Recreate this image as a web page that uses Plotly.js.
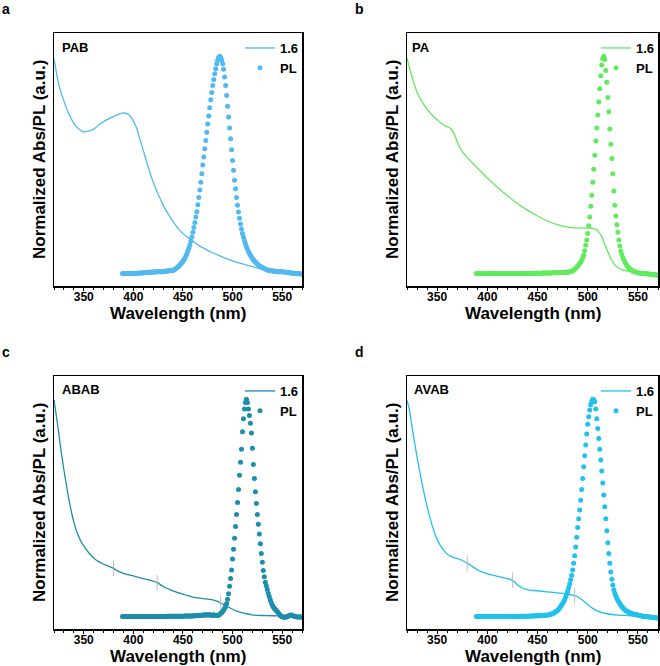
<!DOCTYPE html>
<html><head><meta charset="utf-8">
<script src="https://cdn.plot.ly/plotly-3.0.1.min.js"></script>
<style>html,body{margin:0;padding:0;background:#fff}#chart{width:660px;height:666px}</style>
</head><body><div id="chart"></div>
<script>
const FONT = 'Liberation Sans, Arial, Helvetica, sans-serif';
const panelLetters = ['a', 'b', 'c', 'd'];
const panelNames = ['PAB', 'PA', 'ABAB', 'AVAB'];
const colors = ['#52b9f0', '#62ea5e', '#1c8eab', '#20c1ec'];
const absLabel = '1.6';
const plLabel = 'PL';
const xTicks = [350, 400, 450, 500, 550];
const plStart = 389; // PL spectra: first wavelength (nm), 1 nm steps

// ---------- Absorption (line) ----------
const absA_x = [320,323,326,330,335,340,345,350,355,360,366,373,380,386,391,395,399,403,406,410,415,420,426,431,435,440,445,450,455,460,465,470,475,480,490,500,510,520,530,540,550,560,570];
const absA_y = [0.99,0.91,0.85,0.795,0.735,0.692,0.665,0.652,0.655,0.665,0.687,0.707,0.723,0.735,0.739,0.732,0.71,0.673,0.628,0.567,0.49,0.42,0.355,0.307,0.275,0.24,0.208,0.184,0.166,0.149,0.133,0.119,0.107,0.096,0.076,0.059,0.045,0.032,0.02,0.01,0.004,0.0,-0.003];

const absB_x = [320,322,325,330,335,340,345,350,355,359,362,364,366,368,370,373,376,380,385,390,400,410,420,430,440,450,460,470,480,490,500,505,508,511,514,517,520,523,526,530,535,540,550,560,570];
const absB_y = [0.992,0.955,0.905,0.835,0.79,0.757,0.73,0.708,0.688,0.677,0.672,0.665,0.652,0.632,0.607,0.578,0.556,0.535,0.51,0.487,0.44,0.397,0.358,0.323,0.292,0.265,0.242,0.225,0.214,0.21,0.209,0.208,0.204,0.192,0.17,0.135,0.1,0.07,0.046,0.028,0.017,0.012,0.004,0.0,-0.008];

const absC_x = [320,322,324,326,328,330,332,334,336,338,340,343,346,350,355,360,365,370,375,380,385,390,395,400,405,410,415,420,424,428,432,436,440,445,450,455,460,465,470,475,480,485,490,495,500,505,510,515,520,525,530,540,550,560,570];
const absC_y = [0.998,0.935,0.87,0.8,0.735,0.675,0.62,0.565,0.515,0.472,0.435,0.39,0.357,0.325,0.294,0.27,0.253,0.241,0.232,0.222,0.208,0.199,0.193,0.187,0.181,0.175,0.17,0.163,0.156,0.145,0.134,0.126,0.118,0.11,0.103,0.096,0.09,0.086,0.083,0.08,0.077,0.07,0.058,0.046,0.034,0.024,0.017,0.012,0.008,0.006,0.005,0.004,0.003,0.003,0.003];

const absD_x = [320,322,324,327,330,333,336,339,342,345,348,351,355,359,363,368,372,376,380,385,390,395,400,405,410,415,420,424,427,430,434,438,442,450,460,470,480,485,488,491,495,500,505,510,515,520,530,540,550,560,570];
const absD_y = [0.995,0.96,0.905,0.815,0.735,0.66,0.59,0.527,0.47,0.42,0.378,0.345,0.315,0.292,0.278,0.27,0.264,0.256,0.246,0.231,0.216,0.205,0.197,0.191,0.185,0.18,0.175,0.169,0.16,0.147,0.134,0.126,0.122,0.119,0.114,0.109,0.104,0.099,0.095,0.088,0.075,0.055,0.038,0.025,0.017,0.012,0.007,0.005,0.003,0.001,0.0];

// small grey marks on the absorption curves (c, d)
const marksC_x = [380, 424, 488];
const marksC_y = [0.222, 0.156, 0.064];
const marksD_x = [380, 425, 487];
const marksD_y = [0.246, 0.168, 0.096];

// ---------- PL (dots), 389..570 nm ----------
const plA = [0,
0,0,0,0,0,0,0.001,0.001,0.001,0.001,
0.001,0.001,0.002,0.002,0.002,0.002,0.003,0.003,0.003,0.003,
0.004,0.004,0.004,0.005,0.005,0.005,0.006,0.006,0.006,0.007,
0.007,0.007,0.007,0.008,0.008,0.008,0.008,0.009,0.009,0.009,
0.010,0.010,0.011,0.011,0.012,0.012,0.013,0.013,0.014,0.014,
0.015,0.017,0.020,0.023,0.027,0.031,0.035,0.040,0.046,0.051,
0.057,0.064,0.072,0.082,0.093,0.105,0.118,0.133,0.150,0.169,
0.190,0.212,0.235,0.260,0.285,0.317,0.350,0.385,0.420,0.460,
0.500,0.537,0.575,0.612,0.650,0.688,0.725,0.763,0.800,0.833,
0.865,0.893,0.920,0.943,0.965,0.982,0.995,1.000,0.995,0.983,
0.965,0.940,0.905,0.865,0.820,0.770,0.720,0.670,0.620,0.570,
0.520,0.475,0.430,0.390,0.350,0.315,0.283,0.255,0.228,0.205,
0.185,0.167,0.151,0.137,0.124,0.112,0.102,0.093,0.085,0.077,
0.070,0.064,0.058,0.053,0.048,0.044,0.040,0.036,0.033,0.030,
0.027,0.025,0.023,0.021,0.019,0.017,0.016,0.015,0.014,0.013,
0.012,0.012,0.011,0.011,0.010,0.010,0.009,0.009,0.009,0.008,
0.008,0.007,0.007,0.006,0.006,0.005,0.005,0.004,0.004,0.003,
0.003,0.002,0.002,0.001,0.001,0.000,0.000,-0.001,-0.001,-0.002,
-0.002];

const plB = [0,
0,0,0,0,0,0,0,0,0,0,
0,0,0,0,0,0,0,0,0,0,
0,0,0,0,0,0,0,0,0,0,
0.001,0.001,0.001,0.001,0.001,0.001,0.001,0.001,0.001,0.001,
0.001,0.001,0.001,0.001,0.001,0.001,0.001,0.001,0.001,0.001,
0.001,0.001,0.001,0.001,0.001,0.002,0.002,0.002,0.002,0.002,
0.002,0.002,0.002,0.002,0.002,0.003,0.003,0.003,0.003,0.003,
0.003,0.003,0.003,0.003,0.003,0.004,0.004,0.004,0.004,0.004,
0.004,0.004,0.005,0.005,0.005,0.005,0.005,0.006,0.006,0.006,
0.006,0.007,0.008,0.009,0.011,0.013,0.016,0.020,0.025,0.030,
0.035,0.040,0.046,0.053,0.062,0.073,0.085,0.105,0.130,0.155,
0.185,0.220,0.260,0.310,0.360,0.420,0.480,0.545,0.610,0.670,
0.730,0.790,0.850,0.910,0.960,0.990,1.000,0.985,0.935,0.880,
0.810,0.745,0.665,0.595,0.530,0.460,0.380,0.315,0.265,0.225,
0.190,0.155,0.127,0.104,0.088,0.074,0.063,0.053,0.044,0.037,
0.031,0.026,0.022,0.018,0.015,0.012,0.010,0.008,0.006,0.005,
0.004,0.003,0.002,0.002,0.001,0.001,0.000,0.000,-0.001,-0.001,
-0.002,-0.002,-0.003,-0.003,-0.004,-0.004,-0.005,-0.005,-0.006,-0.006,
-0.007];

const plC = [0,
0,0,0,0,0,0,0,0,0,0,
0,0,0,0,0,0,0,0,0,0,
0,0,0,0,0,0.001,0.001,0.001,0.001,0.001,
0.001,0.001,0.001,0.001,0.001,0.001,0.001,0.001,0.001,0.001,
0.001,0.001,0.001,0.001,0.002,0.002,0.002,0.002,0.002,0.002,
0.002,0.002,0.002,0.002,0.002,0.002,0.002,0.002,0.002,0.002,
0.002,0.002,0.003,0.003,0.003,0.003,0.003,0.003,0.003,0.003,
0.003,0.004,0.004,0.004,0.005,0.004,0.005,0.006,0.005,0.006,
0.007,0.006,0.008,0.007,0.008,0.006,0.008,0.009,0.007,0.005,
0.006,0.008,0.006,0.005,0.005,0.005,0.007,0.010,0.014,0.018,
0.024,0.030,0.038,0.047,0.060,0.080,0.105,0.140,0.175,0.215,
0.265,0.310,0.360,0.415,0.470,0.525,0.585,0.650,0.710,0.770,
0.850,0.910,0.955,0.985,1.000,0.985,0.955,0.925,0.890,0.845,
0.775,0.700,0.635,0.575,0.520,0.470,0.425,0.380,0.335,0.290,
0.250,0.212,0.183,0.158,0.142,0.125,0.108,0.093,0.078,0.065,
0.053,0.045,0.039,0.034,0.029,0.023,0.018,0.012,0.006,0.002,
0.000,-0.002,-0.003,-0.003,-0.002,0.000,0.002,0.004,0.006,0.007,
0.006,0.004,0.002,0.000,-0.001,-0.002,-0.002,-0.002,-0.002,-0.002,
-0.002];

const plD = [0,
0,0,0,0,0,0,0,0,0,0,
0,0,0,0,0,0,0,0,0,0,
0,0,0,0,0,0.001,0.001,0.001,0.001,0.001,
0.001,0.001,0.001,0.001,0.001,0.001,0.001,0.001,0.001,0.001,
0.001,0.001,0.001,0.002,0.002,0.002,0.002,0.002,0.002,0.002,
0.002,0.002,0.002,0.003,0.003,0.003,0.003,0.003,0.004,0.004,
0.004,0.004,0.004,0.005,0.005,0.005,0.005,0.006,0.006,0.006,
0.007,0.008,0.009,0.010,0.012,0.014,0.016,0.019,0.022,0.025,
0.029,0.034,0.040,0.046,0.053,0.060,0.068,0.078,0.090,0.103,
0.117,0.133,0.150,0.170,0.190,0.215,0.245,0.280,0.320,0.365,
0.410,0.450,0.490,0.535,0.585,0.635,0.690,0.740,0.790,0.840,
0.885,0.920,0.950,0.975,0.990,1.000,0.998,0.988,0.955,0.910,
0.865,0.820,0.770,0.720,0.670,0.615,0.560,0.505,0.450,0.395,
0.340,0.290,0.245,0.205,0.172,0.145,0.124,0.108,0.095,0.084,
0.075,0.067,0.059,0.052,0.046,0.041,0.036,0.032,0.028,0.025,
0.022,0.020,0.018,0.016,0.014,0.012,0.011,0.010,0.009,0.008,
0.007,0.006,0.005,0.004,0.003,0.002,0.001,0.000,0.000,-0.001,
-0.001,-0.002,-0.002,-0.003,-0.003,-0.004,-0.004,-0.005,-0.005,-0.006,
-0.006];

const absX = [absA_x, absB_x, absC_x, absD_x];
const absY = [absA_y, absB_y, absC_y, absD_y];
const plY = [plA, plB, plC, plD];
const marksX = [null, null, marksC_x, marksD_x];
const marksY = [null, null, marksC_y, marksD_y];

// ---------- layout geometry (pixels) ----------
const W = 660, H = 666;
const boxes = [ // [left, right, top, bottom] in px
  [54, 302, 33, 286],
  [407, 658, 33, 286],
  [54, 302, 376, 629],
  [407, 658, 376, 629]
];
const letterPos = [[0, 9], [353, 8.5], [0, 351.5], [353, 352]];
const namePos = [[60, 47], [410, 47.5], [59.5, 389.5], [411.5, 389.5]];
const px = x => x / W;
const py = y => 1 - y / H;

const traces = [];
const layout = {
  width: W, height: H,
  margin: {l: 0, r: 0, t: 0, b: 0},
  paper_bgcolor: '#fff', plot_bgcolor: '#fff',
  font: {family: FONT, color: '#000', size: 12, weight: 'bold'},
  showlegend: true,
  annotations: []
};

for (let i = 0; i < 4; i++) {
  const sfx = i === 0 ? '' : String(i + 1);
  const xa = 'x' + sfx, ya = 'y' + sfx;
  const lg = 'legend' + sfx;
  const [L, R, T, B] = boxes[i];
  const plX = plY[i].map((_, k) => plStart + k);

  traces.push({
    type: 'scatter', mode: 'lines', x: absX[i], y: absY[i],
    xaxis: xa, yaxis: ya, name: absLabel, legend: lg,
    line: {color: colors[i], width: 1.3, shape: 'spline', smoothing: 0.8}
  });
  if (marksX[i]) {
    traces.push({
      type: 'scatter', mode: 'markers', x: marksX[i], y: marksY[i],
      xaxis: xa, yaxis: ya, showlegend: false, hoverinfo: 'skip',
      marker: {symbol: 'line-ns-open', size: 11, color: '#bdbdbd', line: {color: '#bdbdbd', width: 1}}
    });
  }
  traces.push({
    type: 'scatter', mode: 'markers', x: plX, y: plY[i],
    xaxis: xa, yaxis: ya, name: plLabel, legend: lg,
    marker: {color: colors[i], size: 5, line: {width: 0}}
  });

  layout['xaxis' + sfx] = {
    domain: [px(L), px(R)], anchor: ya,
    range: [320, 570], tickvals: xTicks,
    ticks: 'outside', ticklen: 3, tickwidth: 1, tickcolor: '#000',
    ticklabelstandoff: -4,
    minor: {dtick: 10, tick0: 320, ticks: 'outside', ticklen: 2.5, tickwidth: 1, tickcolor: '#000'},
    showline: true, linecolor: '#000', linewidth: 1.5, mirror: true,
    showgrid: false, zeroline: false,
    tickfont: {family: FONT, size: 12, color: '#000', weight: 'bold'}
  };
  layout['yaxis' + sfx] = {
    domain: [py(B), py(T)], anchor: xa,
    range: [-0.057, 1.107],
    showticklabels: false, ticks: '',
    showline: true, linecolor: '#000', linewidth: 1.5, mirror: true,
    showgrid: false, zeroline: false
  };
  layout[lg] = {
    x: px(R + 2), xanchor: 'right', y: py(T), yanchor: 'top',
    bgcolor: 'rgba(0,0,0,0)', borderwidth: 0,
    font: {family: FONT, size: 13, color: '#000', weight: 'bold'},
    itemwidth: 30, tracegroupgap: 0
  };

  const cx = (L + R) / 2, cy = (T + B) / 2;
  layout.annotations.push(
    {text: 'Wavelength (nm)', xref: 'paper', yref: 'paper', x: px(cx), y: py(B + 27),
     xanchor: 'center', yanchor: 'middle', showarrow: false,
     font: {family: FONT, size: 17, color: '#000', weight: 'bold'}},
    {text: 'Normalized Abs/PL (a.u.)', xref: 'paper', yref: 'paper', x: px(L - 14.5), y: py(cy),
     xanchor: 'center', yanchor: 'middle', textangle: -90, showarrow: false,
     font: {family: FONT, size: 17, color: '#000', weight: 'bold'}},
    {text: panelLetters[i], xref: 'paper', yref: 'paper', x: px(letterPos[i][0]), y: py(letterPos[i][1]),
     xanchor: 'left', yanchor: 'middle', showarrow: false,
     font: {family: FONT, size: 14, color: '#000', weight: 'bold'}},
    {text: panelNames[i], xref: 'paper', yref: 'paper', x: px(namePos[i][0]), y: py(namePos[i][1]),
     xanchor: 'left', yanchor: 'middle', showarrow: false,
     font: {family: FONT, size: 13, color: '#000', weight: 'bold'}}
  );
}

Plotly.newPlot('chart', traces, layout, {displayModeBar: false, staticPlot: true});
</script>
</body></html>
